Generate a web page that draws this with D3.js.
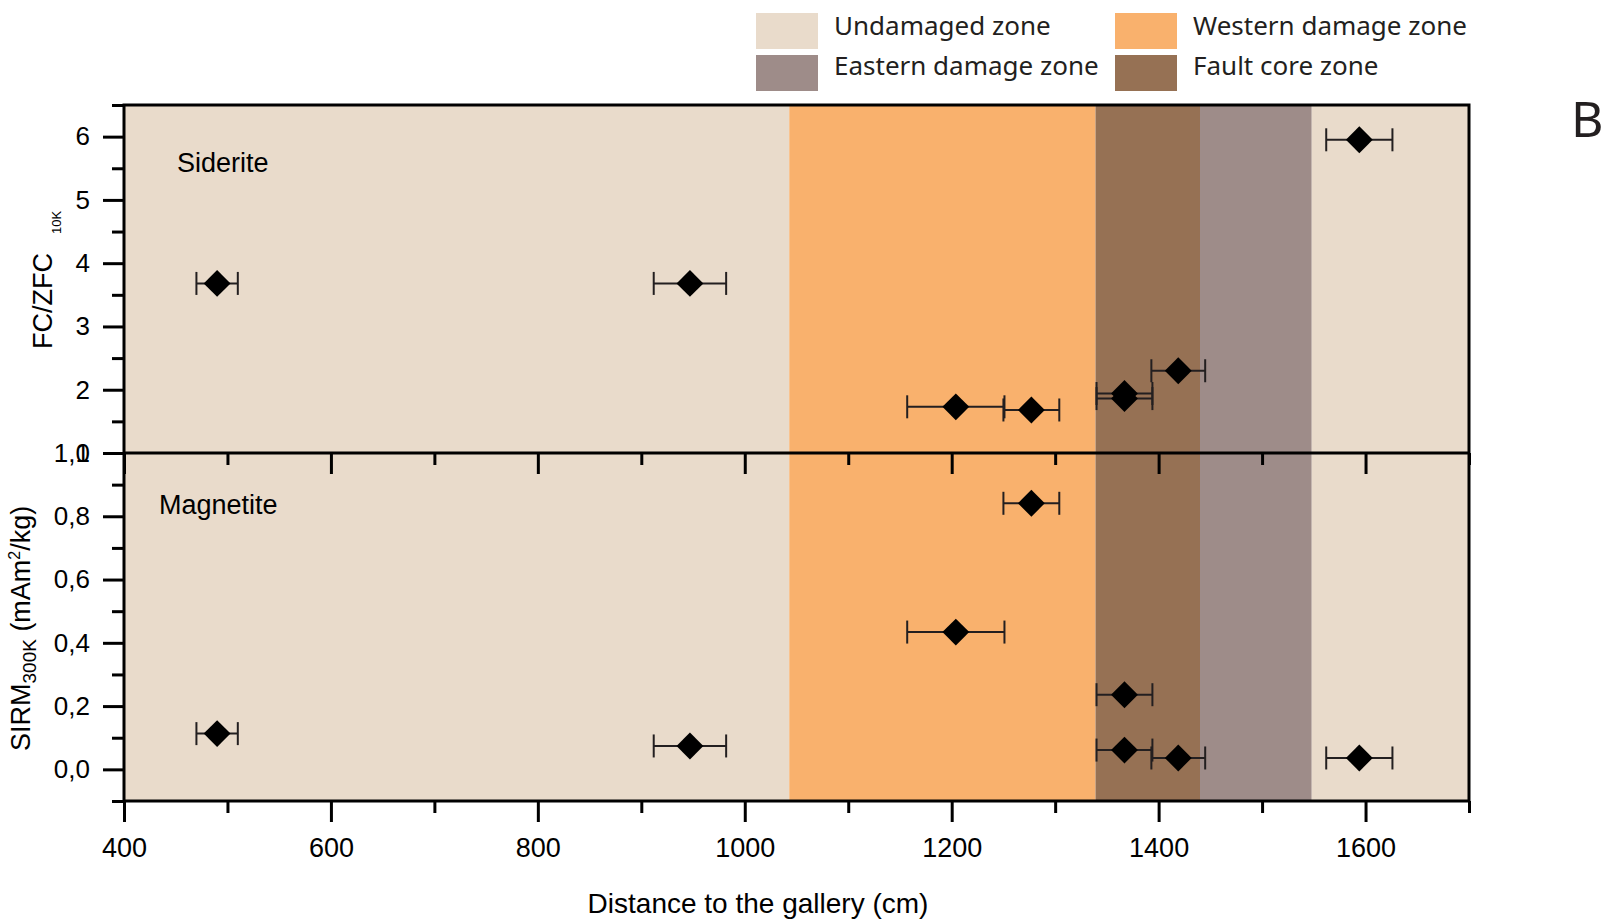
<!DOCTYPE html>
<html>
<head>
<meta charset="utf-8">
<script src="https://cdn.jsdelivr.net/npm/d3@7"></script>
<style>
  body { margin: 0; background: #fff; }
  svg text { font-family: "Liberation Sans", Arial, sans-serif; }
</style>
</head>
<body>
<div id="graph"></div>
<script>
const width = 1610;
const height = 919;

// zones along the gallery (cm)
const zoneNames = ['Undamaged zone', 'Western damage zone', 'Fault core zone', 'Eastern damage zone', 'Undamaged zone'];
const zoneStart = [400, 1043, 1339, 1440, 1548];
const zoneEnd = [1043, 1339, 1440, 1548, 1700];
const zoneColors = {
  'Undamaged zone': '#e9dbcb',
  'Western damage zone': '#f9b16d',
  'Fault core zone': '#967154',
  'Eastern damage zone': '#9e8c89'
};
const legendOrder = ['Undamaged zone', 'Eastern damage zone', 'Western damage zone', 'Fault core zone'];

// samples
const distance = [490, 947, 1204, 1277, 1367, 1367, 1419, 1594];
const distErr = [20, 35, 47, 27, 27, 27, 26, 32];
const sideriteFC = [3.68, 3.68, 1.73, 1.68, 1.94, 1.86, 2.30, 5.95];
const magnetiteSIRM = [0.113, 0.074, 0.434, 0.841, 0.236, 0.061, 0.036, 0.036];

const xMajor = [400, 600, 800, 1000, 1200, 1400, 1600];
const xMinor = [500, 700, 900, 1100, 1300, 1500, 1700];
const topMajor = [1, 2, 3, 4, 5, 6];
const topMinor = [1.5, 2.5, 3.5, 4.5, 5.5, 6.5];
const botMajor = [0, 0.2, 0.4, 0.6, 0.8, 1.0];
const botMinor = [-0.1, 0.1, 0.3, 0.5, 0.7, 0.9];

const svg = d3.select('#graph')
  .append('svg')
  .attr('width', width)
  .attr('height', height);

const x = d3.scaleLinear().domain([400, 1700]).range([124, 1469]);
const yTop = d3.scaleLinear().domain([1, 6.5]).range([453, 105]);
const yBot = d3.scaleLinear().domain([-0.1, 1.0]).range([801, 453]);

// zone backgrounds
svg.append('g').selectAll('rect')
  .data(zoneNames)
  .enter().append('rect')
  .attr('x', (d, i) => x(zoneStart[i]))
  .attr('width', (d, i) => x(zoneEnd[i]) - x(zoneStart[i]))
  .attr('y', yTop(6.5))
  .attr('height', yBot(-0.1) - yTop(6.5))
  .attr('fill', d => zoneColors[d]);

function styleAxis(g, labelSize) {
  g.select('.domain').remove();
  g.selectAll('line').attr('stroke', '#000').attr('stroke-width', 3);
  g.selectAll('text').attr('fill', '#000').style('font-size', labelSize + 'px');
}

const comma = d => d3.format('.1f')(d).replace('.', ',');

// x axes (bottom and middle divider)
for (const yPos of [801, 453]) {
  svg.append('g')
    .attr('transform', `translate(0,${yPos})`)
    .call(d3.axisBottom(x).tickValues(xMinor).tickSize(12).tickFormat(''))
    .call(g => styleAxis(g, 26));
  svg.append('g')
    .attr('transform', `translate(0,${yPos})`)
    .call(d3.axisBottom(x).tickValues(xMajor).tickSize(21).tickPadding(16)
      .tickFormat(yPos === 801 ? d3.format('d') : ''))
    .call(g => styleAxis(g, 27));
}

// y axes
svg.append('g').attr('transform', 'translate(124,0)')
  .call(d3.axisLeft(yTop).tickValues(topMinor).tickSize(12).tickFormat(''))
  .call(g => styleAxis(g, 26));
svg.append('g').attr('transform', 'translate(124,0)')
  .call(d3.axisLeft(yTop).tickValues(topMajor).tickSize(21).tickPadding(13).tickFormat(d3.format('d')))
  .call(g => styleAxis(g, 26));
svg.append('g').attr('transform', 'translate(124,0)')
  .call(d3.axisLeft(yBot).tickValues(botMinor).tickSize(12).tickFormat(''))
  .call(g => styleAxis(g, 26));
svg.append('g').attr('transform', 'translate(124,0)')
  .call(d3.axisLeft(yBot).tickValues(botMajor).tickSize(21).tickPadding(13).tickFormat(comma))
  .call(g => styleAxis(g, 26));

// frame
svg.append('rect')
  .attr('x', x(400)).attr('y', yTop(6.5))
  .attr('width', x(1700) - x(400)).attr('height', yBot(-0.1) - yTop(6.5))
  .attr('fill', 'none').attr('stroke', '#000').attr('stroke-width', 3);
svg.append('line')
  .attr('x1', x(400)).attr('x2', x(1700))
  .attr('y1', yTop(1)).attr('y2', yTop(1))
  .attr('stroke', '#000').attr('stroke-width', 3);

// data points with horizontal error bars
const diamond = d3.symbol(d3.symbolSquare, 361);

function drawSeries(values, yScale) {
  const g = svg.append('g');
  const pts = g.selectAll('g.pt')
    .data(values)
    .enter().append('g')
    .attr('class', 'pt');
  pts.append('line')
    .attr('x1', (d, i) => x(distance[i] - distErr[i]))
    .attr('x2', (d, i) => x(distance[i] + distErr[i]))
    .attr('y1', d => yScale(d)).attr('y2', d => yScale(d))
    .attr('stroke', '#231f20').attr('stroke-width', 2);
  for (const sgn of [-1, 1]) {
    pts.append('line')
      .attr('x1', (d, i) => x(distance[i] + sgn * distErr[i]))
      .attr('x2', (d, i) => x(distance[i] + sgn * distErr[i]))
      .attr('y1', d => yScale(d) - 11.5).attr('y2', d => yScale(d) + 11.5)
      .attr('stroke', '#231f20').attr('stroke-width', 2);
  }
  g.selectAll('path.pt')
    .data(values)
    .enter().append('path')
    .attr('d', diamond)
    .attr('transform', (d, i) => `translate(${x(distance[i])},${yScale(d)}) rotate(45)`)
    .attr('fill', '#000');
}
drawSeries(sideriteFC, yTop);
drawSeries(magnetiteSIRM, yBot);

// panel labels
svg.append('text').attr('x', 177).attr('y', 172)
  .style('font-size', '27px').text('Siderite');
svg.append('text').attr('x', 159).attr('y', 514)
  .style('font-size', '27px').text('Magnetite');

// axis titles
svg.append('text')
  .attr('x', 758).attr('y', 913)
  .attr('text-anchor', 'middle')
  .style('font-size', '28px')
  .text('Distance to the gallery (cm)');

svg.append('text')
  .attr('transform', 'translate(52,349) rotate(-90)')
  .style('font-size', '27px')
  .text('FC/ZFC');
svg.append('text')
  .attr('transform', 'translate(61,234) rotate(-90)')
  .style('font-size', '13px')
  .text('10K');

const sirm = svg.append('text')
  .attr('transform', 'translate(30,751) rotate(-90)')
  .style('font-size', '27px');
sirm.append('tspan').text('SIRM');
sirm.append('tspan').attr('dy', 6).style('font-size', '19px').text('300K');
sirm.append('tspan').attr('dy', -6).text(' (mAm');
sirm.append('tspan').attr('dy', -10).style('font-size', '16px').text('2');
sirm.append('tspan').attr('dy', 10).text('/kg)');

// legend
const legend = svg.append('g').selectAll('g')
  .data(legendOrder)
  .enter().append('g')
  .attr('transform', (d, i) => `translate(${i < 2 ? 756 : 1115},${i % 2 === 0 ? 13 : 55})`);
legend.append('rect')
  .attr('width', 62).attr('height', 36)
  .attr('fill', d => zoneColors[d]);
legend.append('text')
  .attr('x', 78).attr('y', (d, i) => i % 2 === 0 ? 22 : 20)
  .style('font-family', '"Noto Sans", sans-serif')
  .style('font-size', '26px')
  .attr('fill', '#231f20')
  .text(d => d);

svg.append('text')
  .attr('x', 1571).attr('y', 137)
  .style('font-family', '"Noto Sans", sans-serif')
  .style('font-size', '50px')
  .attr('fill', '#231f20')
  .text('B');
</script>
</body>
</html>
